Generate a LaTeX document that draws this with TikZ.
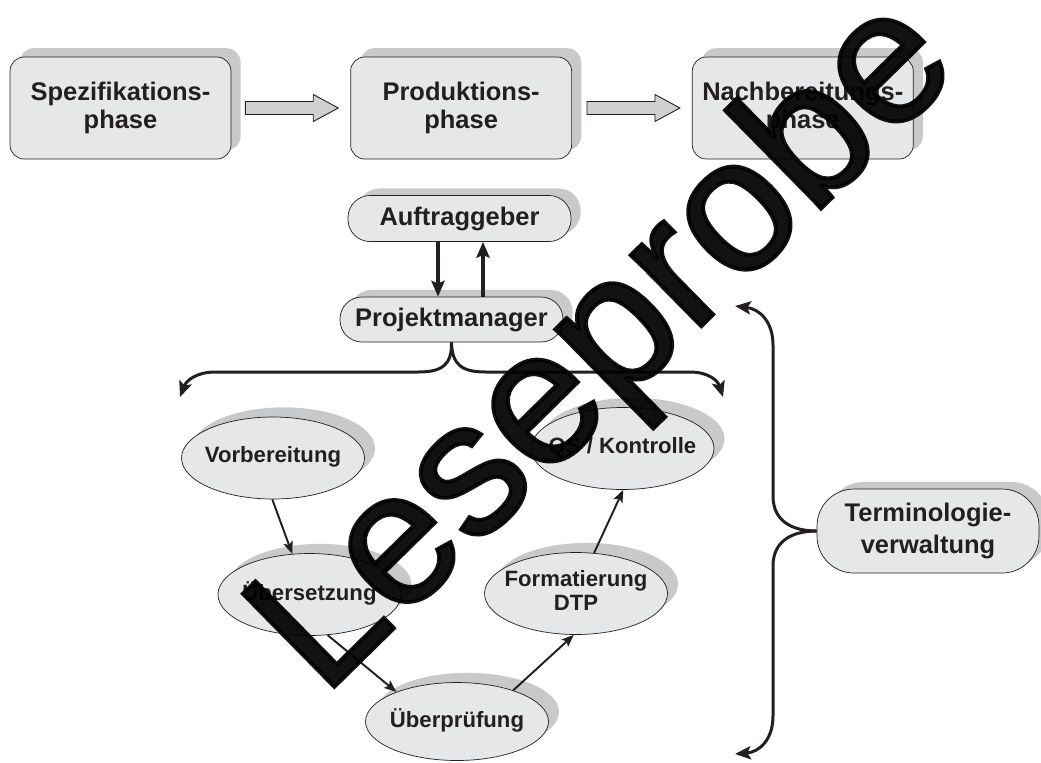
\documentclass[tikz,border=0pt]{standalone}
\usepackage{fontspec}
\setmainfont{Liberation Sans}
\newfontfamily\wmfont{Liberation Sans}[FakeBold=2]
\usetikzlibrary{calc,positioning,arrows.meta,shadows,shapes.geometric}
\definecolor{boxfill}{RGB}{230,231,232}
\definecolor{shadowgray}{RGB}{200,201,203}
\definecolor{arrowgray}{RGB}{206,207,209}
\definecolor{ink}{RGB}{35,31,32}
\newcommand{\ovaltext}[1]{\makebox[0pt]{\begin{tabular}{@{}c@{}}#1\end{tabular}}}

\begin{document}
\begin{tikzpicture}[x=0.02cm, y=-0.02cm, align=center, ink,
    phasebox/.style={draw=ink, fill=boxfill, rounded corners=8pt, minimum width=4.42cm, minimum height=2.04cm,
        font=\fontsize{14.5}{16}\selectfont\bfseries,
        general shadow={fill=shadowgray, shadow xshift=5.5pt, shadow yshift=5pt}},
    pillbox/.style={draw=ink, fill=boxfill, rounded corners=12.5pt, minimum width=4.46cm, minimum height=0.92cm,
        font=\fontsize{14.5}{16}\selectfont\bfseries,
        general shadow={fill=shadowgray, shadow xshift=5.5pt, shadow yshift=4pt}},
    oval/.style={draw=ink, fill=boxfill, ellipse, inner sep=0pt, minimum width=3.66cm, minimum height=1.64cm,
        font=\fontsize{12.6}{14}\selectfont\bfseries,
        general shadow={fill=shadowgray, shadow xshift=6pt, shadow yshift=5.5pt}},
    blockarrow/.style={draw=ink, fill=arrowgray, line width=0.5pt},
    flow/.style={line width=1.1pt, -{Stealth[length=7pt, width=5.5pt, inset=1.5pt]}},
    link/.style={line width=1.9pt, -{Stealth[length=9pt, width=7.5pt, inset=1.5pt]}},
    brace/.style={line width=1.7pt, -{Stealth[length=9pt, width=7.5pt, inset=2pt]}},
    watermark/.style={text=black, opacity=0.93, inner sep=0pt, font=\fontsize{108}{110}\selectfont\wmfont}]

    \useasboundingbox (0,0) rectangle (1041,762);

    % phases
    \node [phasebox] (spez) at (120.5,108) {Spezifikations-\\phase};
    \node [phasebox, right=2.38cm of spez] (prod) {Produktions-\\phase};
    \node [phasebox, right=2.4cm of prod] (nach) {Nachbereitungs-\\phase};

    \draw[blockarrow] ($(spez.east)+(14,-6.5)$) -- ($(prod.west)+(-37,-6.5)$) -- ($(prod.west)+(-37,-13.5)$)
        -- ($(prod.west)+(-12,0)$) -- ($(prod.west)+(-37,13.5)$) -- ($(prod.west)+(-37,6.5)$) -- ($(spez.east)+(14,6.5)$) -- cycle;
    \draw[blockarrow] ($(prod.east)+(15,-6.5)$) -- ($(nach.west)+(-37,-6.5)$) -- ($(nach.west)+(-37,-13.5)$)
        -- ($(nach.west)+(-12,0)$) -- ($(nach.west)+(-37,13.5)$) -- ($(nach.west)+(-37,6.5)$) -- ($(prod.east)+(15,6.5)$) -- cycle;

    % roles
    \node [pillbox] (auftrag) at (459.5,218.5) {Auftraggeber};
    \node [pillbox, minimum height=0.9cm] (pm) at (451.5,319.5) {Projektmanager};
    \node [pillbox, rounded corners=21pt, minimum width=4.44cm, minimum height=1.68cm,
        font=\fontsize{14.5}{18}\selectfont\bfseries] (term) at (928,531) {Terminologie-\\verwaltung};

    \draw[link] ([xshift=-0.43cm]auftrag.south) -- ([xshift=-0.43cm]auftrag.south |- pm.north);
    \draw[link] ([xshift=0.47cm]auftrag.south |- pm.north) -- ([xshift=0.47cm]auftrag.south);

    % workflow
    \node [oval] (vorb) at (273,458) {\ovaltext{Vorbereitung}};
    \node [oval] (uebers) at (309.5,594.5) {\ovaltext{Übersetzung}};
    \node [oval, minimum height=1.56cm] (ueberp) at (457,721.5) {\ovaltext{Überprüfung}};
    \node [oval] (format) at (576,593.5) {\ovaltext{Formatierung\\DTP}};
    \node [oval] (qs) at (622.5,448.5) {\ovaltext{QS / Kontrolle}};

    \draw[flow] (vorb.-91) -- (uebers.113);
    \draw[flow] (uebers.-66) -- (ueberp.154);
    \draw[flow] (ueberp.29) -- (format.-93);
    \draw[flow] (format.66) -- (qs.-89);

    % braces
    \coordinate (pmL) at (180,397);
    \coordinate (pmR) at (723,397);
    \coordinate (termT) at (735,306);
    \coordinate (termB) at (735,754);
    \draw[brace] (pm.south) .. controls (452,365) and (442,372) .. (418,372) -- (215,372)
        .. controls (196,372) and (186,381) .. (pmL);
    \draw[brace] (pm.south) .. controls (452,365) and (462,372) .. (486,372) -- (690,372)
        .. controls (709,372) and (718,381) .. (pmR);
    \draw[brace] (term.west) .. controls (792,531) and (773,521) .. (773,496) -- (773,345)
        .. controls (773,322) and (760,309) .. (termT);
    \draw[brace] (term.west) .. controls (792,531) and (773,541) .. (773,566) -- (773,716)
        .. controls (773,739) and (760,752) .. (termB);

    \node [watermark, rotate=44.5, anchor=base west] (wm) at (323,698) {Leseprobe};

\end{tikzpicture}
\end{document}
